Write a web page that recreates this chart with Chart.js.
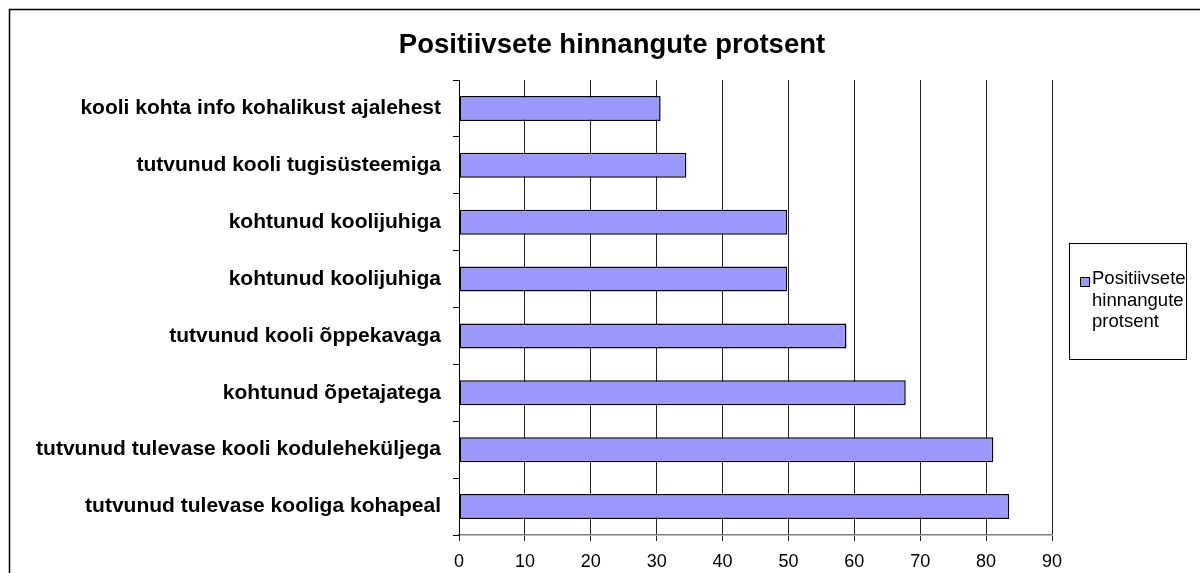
<!DOCTYPE html>
<html lang="et">
<head>
    <meta charset="UTF-8">
    <title>Positiivsete hinnangute protsent</title>
    <style>
        body {
            margin: 0;
            background-color: #fff;
        }
        canvas {
            display: block;
        }
    </style>
</head>
<body>
    <canvas id="hinnangudChart" width="1200" height="573"></canvas>

    <script src="https://cdn.jsdelivr.net/npm/chart.js"></script>
    <script>
        // Andmed
        const kategooriad = [
            'kooli kohta info kohalikust ajalehest',
            'tutvunud kooli tugisüsteemiga',
            'kohtunud koolijuhiga',
            'kohtunud koolijuhiga',
            'tutvunud kooli õppekavaga',
            'kohtunud õpetajatega',
            'tutvunud tulevase kooli koduleheküljega',
            'tutvunud tulevase kooliga kohapeal'
        ];
        const protsendid = [30.6, 34.5, 49.8, 49.8, 58.8, 67.8, 81.1, 83.5];
        const seeriaNimi = 'Positiivsete hinnangute protsent';
        const pealkiri = 'Positiivsete hinnangute protsent';
        const xMin = 0;
        const xMax = 90;
        const xSamm = 10;

        const fontPere = '"Liberation Sans", Arial, sans-serif';

        // Raam ümber kogu joonise + pealkiri (keskel kogu joonise suhtes, mitte graafiku ala)
        const raamPlugin = {
            id: 'raam',
            beforeDraw(chart) {
                const c = chart.ctx;
                c.save();
                c.fillStyle = '#fff';
                c.fillRect(0, 0, chart.width, chart.height);
                c.strokeStyle = '#000';
                c.lineWidth = 1.5;
                c.strokeRect(9.5, 9.5, chart.width + 20, chart.height + 20);

                c.font = 'bold 27.5px ' + fontPere;
                c.fillStyle = '#000';
                c.textAlign = 'center';
                c.textBaseline = 'middle';
                c.fillText(pealkiri, 612, 45);
                c.restore();
            }
        };

        // Legend paremal, tekst murtakse sõnade kaupa
        const legendPlugin = {
            id: 'kastLegend',
            afterDraw(chart) {
                const c = chart.ctx;
                const ds = chart.data.datasets[0];
                const left = chart.chartArea.right + 17;
                const top = 243;
                const w = 117;
                const h = 116;
                c.save();
                c.fillStyle = '#fff';
                c.fillRect(left, top, w, h);
                c.strokeStyle = '#000';
                c.lineWidth = 1;
                c.strokeRect(left + 0.5, top + 0.5, w, h);

                c.fillStyle = ds.backgroundColor;
                c.fillRect(left + 11, top + 34, 9, 9);
                c.strokeStyle = '#000';
                c.strokeRect(left + 11.5, top + 34.5, 9, 9);

                c.font = '18.5px ' + fontPere;
                c.fillStyle = '#000';
                c.textBaseline = 'middle';
                const read = ds.label.split(' ');
                read.forEach((r, i) => {
                    c.fillText(r, left + 23, top + 36 + i * 21.5);
                });
                c.restore();
            }
        };

        const ctx = document.getElementById('hinnangudChart').getContext('2d');
        const hinnangudChart = new Chart(ctx, {
            type: 'bar',
            data: {
                labels: kategooriad,
                datasets: [{
                    label: seeriaNimi,
                    data: protsendid,
                    backgroundColor: '#9999FF',
                    borderColor: '#000',
                    borderWidth: 1.5,
                    borderSkipped: false,
                    barPercentage: 0.44,
                    categoryPercentage: 1
                }]
            },
            options: {
                indexAxis: 'y',
                responsive: false,
                animation: false,
                layout: {
                    padding: { left: 0, right: 148, top: 80, bottom: 0 }
                },
                plugins: {
                    legend: { display: false },
                    tooltip: { enabled: false },
                    title: { display: false }
                },
                scales: {
                    x: {
                        min: xMin,
                        max: xMax,
                        ticks: {
                            stepSize: xSamm,
                            color: '#000',
                            padding: 10,
                            font: { family: fontPere, size: 18 }
                        },
                        grid: {
                            color: '#222',
                            lineWidth: 1,
                            tickLength: 6
                        },
                        border: { color: '#808080', width: 1.5 },
                        afterFit(scale) {
                            scale.height = 38;
                        }
                    },
                    y: {
                        ticks: {
                            color: '#000',
                            padding: 12,
                            autoSkip: false,
                            font: { family: fontPere, size: 21, weight: 'bold' }
                        },
                        grid: {
                            drawOnChartArea: false,
                            color: '#000',
                            tickLength: 6
                        },
                        border: { color: '#000', width: 1 },
                        afterFit(scale) {
                            scale.width = 459;
                        }
                    }
                }
            },
            plugins: [raamPlugin, legendPlugin]
        });
    </script>
</body>
</html>
